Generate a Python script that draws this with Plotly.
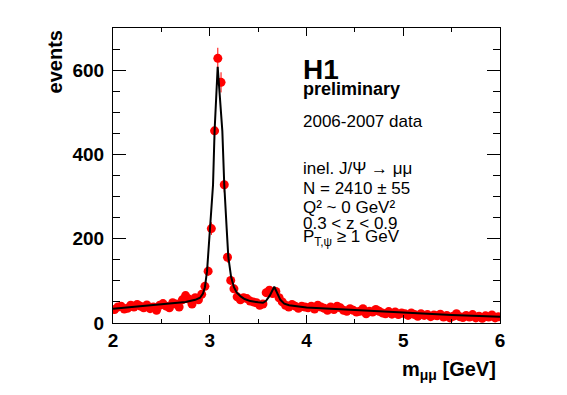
import numpy as np
import plotly.graph_objects as go

# ---- data: 120 bins from 2 to 6 GeV (width 1/30 GeV) ----
bin_lo = 2.0
bin_width = 1.0 / 30.0
events = [
    32, 38, 40, 33, 35, 42, 38, 44, 40, 36,
    43, 34, 38, 30, 42, 46, 40, 36, 48, 45,
    38, 55, 65, 57, 45, 60, 55,
    68, 87, 123, 224, 456, 628, 571, 328, 156, 101,
    81, 62, 55, 60, 58, 52, 50, 48, 42, 45,
    72, 78, 70, 75, 60, 50, 42, 38, 44, 40,
    35, 40, 38,
    36, 40, 33, 42, 38, 35, 30, 38, 32, 40,
    36, 30, 28, 34, 30, 26, 28, 34, 22, 28,
    26, 32, 28, 24, 22, 27, 21, 26, 20, 24,
    22, 18, 24, 20, 16, 22, 18, 20, 15, 19,
    17, 21, 14, 18, 12, 16, 22, 15, 13, 18,
    14, 20, 12, 16, 11, 17, 14, 19, 12, 15,
]
mass = [bin_lo + bin_width * (i + 0.5) for i in range(len(events))]
errors = np.sqrt(np.array(events, dtype=float))

# fit curve
fit_m = [2.0, 2.2, 2.4, 2.6, 2.75, 2.85, 2.9, 2.93, 2.95, 2.972, 3.003, 3.034,
         3.05, 3.082, 3.13, 3.15, 3.175, 3.192, 3.22, 3.25, 3.28, 3.32, 3.36,
         3.42, 3.5, 3.55, 3.58, 3.62, 3.667, 3.70, 3.73, 3.77, 3.82, 3.9, 4.0,
         4.3, 4.6, 5.0, 5.5, 6.0]
fit_v = [34, 38, 42, 46, 50, 55, 60, 70, 85, 123, 224, 328,
         456, 608, 456, 328, 224, 156, 110, 85, 72, 63, 57,
         52, 49, 48, 52, 65, 86, 68, 55, 46, 42, 40, 37,
         33, 29, 25, 19, 15]

# axis ticks
x_ticks = [2, 3, 4, 5, 6]
y_ticks = [0, 200, 400, 600]

FONT = "Liberation Sans"

fig = go.Figure()
fig.add_trace(go.Scatter(
    x=mass, y=events, mode="markers",
    marker=dict(color="#ff0000", size=9),
    error_y=dict(type="data", array=errors, color="#ff0000", thickness=1, width=0),
    showlegend=False,
))
fig.add_trace(go.Scatter(
    x=fit_m, y=fit_v, mode="lines",
    line=dict(color="black", width=2),
    showlegend=False,
))

tickfont = dict(family=FONT, size=19, color="black", weight="bold")
fig.update_xaxes(
    range=[2, 6], tickvals=x_ticks, ticktext=[str(t) for t in x_ticks],
    ticks="inside", ticklen=8, tickcolor="black", tickwidth=1,
    minor=dict(ticks="inside", ticklen=4, dtick=0.5, tickcolor="black"),
    showline=True, linecolor="black", linewidth=1, mirror="allticks",
    showgrid=False, zeroline=False, tickfont=tickfont,
)
fig.update_yaxes(
    range=[0, 700], tickvals=y_ticks, ticktext=[str(t) for t in y_ticks],
    ticks="inside", ticklen=13, tickcolor="black", tickwidth=1,
    minor=dict(ticks="inside", ticklen=7, dtick=50, tickcolor="black"),
    showline=True, linecolor="black", linewidth=1, mirror="allticks",
    showgrid=False, zeroline=False, tickfont=tickfont, ticklabelstandoff=4,
)

ann = []
ann.append(dict(text="events", xref="paper", yref="paper", x=-0.150, y=1.0,
                xanchor="center", yanchor="top", textangle=-90, showarrow=False,
                font=dict(family=FONT, size=20, color="black", weight="bold")))
ann.append(dict(text="m<sub>μμ</sub> [GeV]", xref="paper", yref="paper", x=0.995, y=-0.16,
                xanchor="right", yanchor="middle", showarrow=False,
                font=dict(family=FONT, size=20, color="black", weight="bold")))

tx = 3.94
texts = [
    ("H1", 601, 28, "bold"),
    ("preliminary", 556, 18, "bold"),
    ("2006-2007 data", 477, 17, "normal"),
    ("inel. J/Ψ → μμ", 366, 17, "normal"),
    ("N = 2410 ± 55", 319, 17, "normal"),
    ("Q² ~ 0 GeV²", 274, 17, "normal"),
    ("0.3 < z < 0.9", 237, 17, "normal"),
    ("P<sub>T,ψ</sub> ≥ 1 GeV", 202, 17, "normal"),
]
for t, yv, sz, wt in texts:
    ann.append(dict(text=t, xref="x", yref="y", x=tx, y=yv, xanchor="left",
                    yanchor="middle", showarrow=False,
                    font=dict(family=FONT, size=sz, color="black", weight=wt)))

# the page adds an 8 px body margin, so the figure is sized to fit the window
fig.update_layout(
    width=559, height=387,
    margin=dict(l=105, r=67, t=20, b=72),
    paper_bgcolor="white", plot_bgcolor="white",
    annotations=ann, showlegend=False,
)

fig.write_html("out.html")
